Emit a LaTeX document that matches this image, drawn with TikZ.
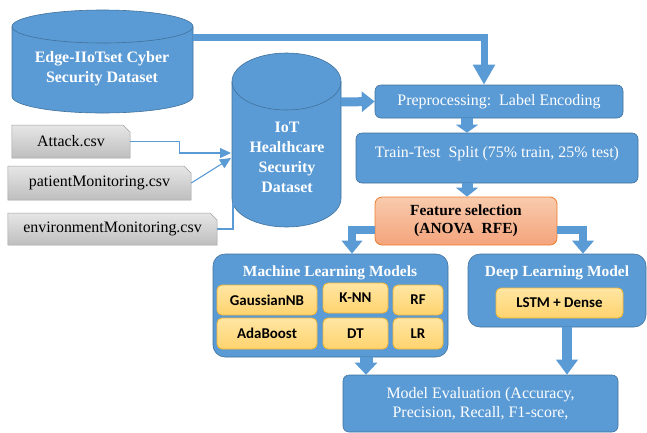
\documentclass[tikz,border=0pt]{standalone}
\usepackage{fontspec}
\setmainfont{Liberation Serif}
\newfontfamily\calib{Carlito}
\usetikzlibrary{arrows.meta}
\usetikzlibrary{shapes.misc}

\definecolor{blueA}{HTML}{5B9BD5}
\definecolor{blueD}{HTML}{41719C}
\definecolor{grayT}{HTML}{E6E6E6}
\definecolor{grayB}{HTML}{BEBEBE}
\definecolor{grayD}{HTML}{A0A0A0}
\definecolor{oraT}{HTML}{F8CBAD}
\definecolor{oraB}{HTML}{F4A47C}
\definecolor{oraD}{HTML}{ED7D31}
\definecolor{yelT}{HTML}{FFE6A3}
\definecolor{yelB}{HTML}{FFD36E}
\definecolor{yelD}{HTML}{F2B533}

\tikzset{
  cyl/.style={fill=blueA, draw=blueD, line width=0.6bp},
  bluebox/.style={fill=blueA, draw=blueD, line width=0.6bp, rounded corners=6bp,
    text=white, font=\fontsize{16}{19}\selectfont, align=center},
  csvbox/.style={chamfered rectangle, chamfered rectangle corners=north east,
    chamfered rectangle xsep=4bp, top color=grayT, bottom color=grayB, draw=grayD,
    line width=0.5bp, font=\fontsize{16}{19}\selectfont},
  modbox/.style={top color=yelT, bottom color=yelB, draw=yelD, line width=0.8bp,
    rounded corners=5bp, font=\calib\bfseries\fontsize{15}{18}\selectfont},
  title/.style={text=white, font=\bfseries\fontsize{15.5}{18}\selectfont},
  blk/.style={draw=blueA, line width=#1},
  feed/.style={draw=blueA, line width=1.1bp, -{Triangle[width=10bp,length=11bp]}},
}

\begin{document}
\begin{tikzpicture}[x=1bp,y=-1bp]
\useasboundingbox (0,0) rectangle (647,432);

% cylinders
\filldraw[cyl] (12,26.5) -- (12,96.5)
  arc[start angle=180, end angle=360, x radius=90.5bp, y radius=16.5bp]
  -- (193,26.5) arc[start angle=0, end angle=180, x radius=90.5bp, y radius=16.5bp] -- cycle;
\draw[blueD, line width=0.6bp] (12,26.5) arc[start angle=180, end angle=360, x radius=90.5bp, y radius=16.5bp];
\node[title, font=\bfseries\fontsize{16}{20}\selectfont, align=center] (edgedb) at (102,69)
  {Edge-IIoTset Cyber\\Security Dataset};
\coordinate (edgeR) at (193,37);

\filldraw[cyl] (232,81.5) -- (232,198.5)
  arc[start angle=180, end angle=360, x radius=54.5bp, y radius=28.5bp]
  -- (341,81.5) arc[start angle=0, end angle=180, x radius=54.5bp, y radius=28.5bp] -- cycle;
\draw[blueD, line width=0.6bp] (232,81.5) arc[start angle=180, end angle=360, x radius=54.5bp, y radius=28.5bp];
\node[title, font=\bfseries\fontsize{16}{20}\selectfont, align=center] (iotdb) at (287,157)
  {IoT\\Healthcare\\Security\\Dataset};
\coordinate (iotR) at (341,102);
\coordinate (iotA) at (231,153);
\coordinate (iotB) at (231,158);
\coordinate (iotC) at (233,203);

% csv files
\node[csvbox, minimum width=118bp, minimum height=33bp] (att) at (71,141.5) {Attack.csv};
\node[csvbox, minimum width=183bp, minimum height=34bp] (pat) at (99.5,183) {patientMonitoring.csv};
\node[csvbox, minimum width=209bp, minimum height=32bp] (env) at (112.5,229) {environmentMonitoring.csv};

\draw[feed] (att.east) -- ++(49,0) |- (iotA);
\draw[feed] (pat.east) -- (iotB);
\draw[draw=blueA, line width=1.1bp] (env.east) -| (iotC);

% pipeline
\node[bluebox, minimum width=248bp, minimum height=33bp] (prep) at (499,101.5)
  {Preprocessing:\ \ Label Encoding};
\node[bluebox, minimum width=282bp, minimum height=50bp, text height=11bp, text depth=13bp] (split) at (497,158)
  {Train-Test\ \ Split (75\% train, 25\% test)};
\node[top color=oraT, bottom color=oraB, draw=oraD, line width=0.8bp, rounded corners=7bp,
  minimum width=182bp, minimum height=48bp, align=center,
  font=\bfseries\fontsize{15.5}{18}\selectfont] (feat) at (466,221)
  {Feature selection\\(ANOVA\ \ RFE)};

% model groups
\node[bluebox, rounded corners=12bp, minimum width=235bp, minimum height=103bp] (ml) at (330.5,305.5) {};
\node[title] (mltitle) at (330,273) {Machine Learning Models};
\node[modbox, minimum width=100bp, minimum height=30bp] (gnb) at (267,300) {GaussianNB};
\node[modbox, minimum width=65bp, minimum height=30bp] (knn) at (355.5,298) {K-NN};
\node[modbox, minimum width=50bp, minimum height=30bp] (rf) at (418,300) {RF};
\node[modbox, minimum width=100bp, minimum height=31bp] (ada) at (267,333.5) {AdaBoost};
\node[modbox, minimum width=65bp, minimum height=31bp] (dt) at (355.5,333.5) {DT};
\node[modbox, minimum width=50bp, minimum height=31bp] (lr) at (418,333.5) {LR};

\node[bluebox, rounded corners=12bp, minimum width=178bp, minimum height=73bp] (dl) at (557,290.5) {};
\node[title] (dltitle) at (557,273) {Deep Learning Model};
\node[modbox, minimum width=127bp, minimum height=30bp] (lstm) at (559.5,303) {LSTM + Dense};

\node[bluebox, minimum width=275bp, minimum height=57bp] (eval) at (480.5,403.5)
  {Model Evaluation\ (Accuracy,\\Precision,\ Recall,\ F1-score,};

% block arrows
\draw[blk=7bp, -{Triangle[width=21bp,length=20bp]}] (edgeR) -| (484,0 |- prep.north);
\draw[blk=9bp, -{Triangle[width=20bp,length=13bp]}] (iotR) -- (prep.west);
\draw[blk=12bp, -{Triangle[width=22bp,length=8bp]}] (467,0 |- prep.south) -- (467,0 |- split.north);
\draw[blk=11bp, -{Triangle[width=22bp,length=9bp]}] (467,0 |- split.south) -- (467,0 |- feat.north);
\draw[blk=8bp, -{Triangle[width=20bp,length=13bp]}] ([yshift=-9bp]feat.west) -| (352,0 |- ml.north);
\draw[blk=8bp, -{Triangle[width=21bp,length=13bp]}] ([yshift=-9bp]feat.east) -| (583,0 |- dl.north);
\draw[blk=13bp, -{Triangle[width=22bp,length=12bp]}] (366,0 |- ml.south) -- (366,0 |- eval.north);
\draw[blk=10bp, -{Triangle[width=21bp,length=15bp]}] (567,0 |- dl.south) -- (567,0 |- eval.north);
\end{tikzpicture}
\end{document}
